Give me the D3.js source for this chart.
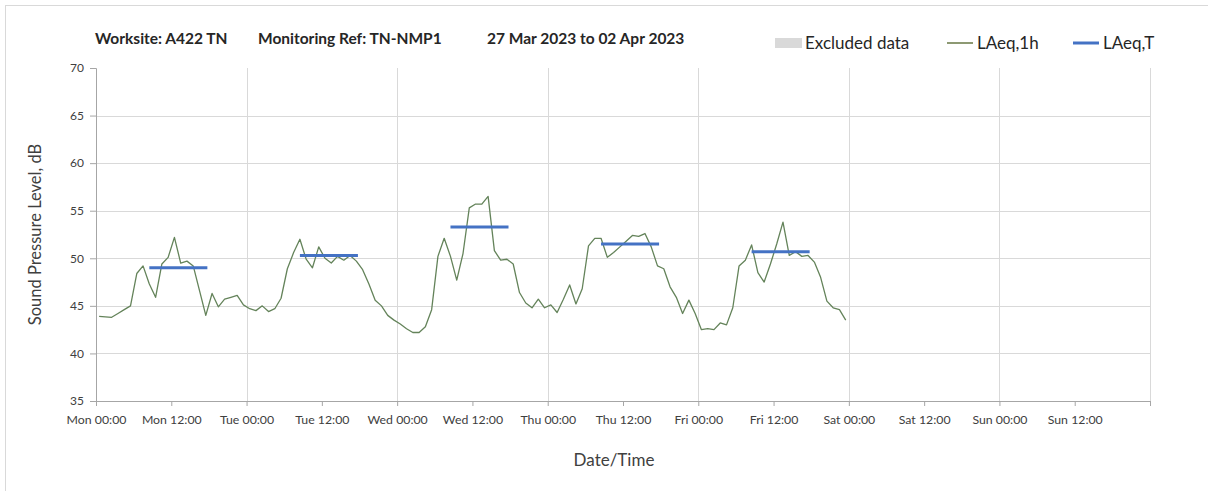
<!DOCTYPE html>
<html>
<head>
<meta charset="utf-8">
<script src="https://cdn.jsdelivr.net/npm/d3@7"></script>
<style>
  body { margin: 0; background: #fff; }
  svg text { font-family: Lato, "Open Sans", sans-serif; fill: #262626; }
  .tick text { fill: #404040; }
</style>
</head>
<body>
<script>
// hourly LAeq,1h readings, Mon 27 Mar 00:30 onward
var laeq1h = [
  43.9, 43.85, 43.8, 44.2, 44.6, 45.0, 48.4, 49.2, 47.3, 45.9, 49.4, 50.1,
  52.2, 49.5, 49.7, 49.2, 46.6, 44.0, 46.3, 44.9, 45.7, 45.9, 46.1, 45.1,
  44.7, 44.5, 45.0, 44.4, 44.7, 45.8, 48.9, 50.6, 52.0, 49.9, 49.0, 51.2,
  50.0, 49.5, 50.2, 49.8, 50.3, 49.7, 48.8, 47.3, 45.6, 45.0, 44.0, 43.5,
  43.1, 42.6, 42.2, 42.2, 42.8, 44.6, 50.2, 52.1, 50.2, 47.7, 50.5, 55.3,
  55.7, 55.7, 56.5, 50.8, 49.8, 49.9, 49.4, 46.4, 45.3, 44.8, 45.7, 44.8,
  45.1, 44.3, 45.7, 47.2, 45.2, 46.8, 51.3, 52.1, 52.1, 50.1, 50.6, 51.2,
  51.8, 52.4, 52.3, 52.6, 51.2, 49.2, 48.9, 47.0, 45.9, 44.2, 45.6, 44.2,
  42.5, 42.6, 42.5, 43.2, 43.0, 44.8, 49.2, 49.8, 51.4, 48.5, 47.5, 49.4,
  51.5, 53.8, 50.3, 50.7, 50.2, 50.3, 49.6, 48.0, 45.5, 44.8, 44.6, 43.5
];
var startTime = new Date(2023, 2, 27, 0, 30);

// daytime LAeq,T per day
var periodDays = [27, 28, 29, 30, 31];
var laeqT = [49.0, 50.3, 53.3, 51.5, 50.7];
var periodStart = 8.5;   // hours
var periodEnd = 17.75;

var yTicks = [35, 40, 45, 50, 55, 60, 65, 70];
var legendItems = ["Excluded data", "LAeq,1h", "LAeq,T"];

var w = 1208, h = 491;
var margin = {top: 68, right: 58, bottom: 90, left: 96};

var svg = d3.select("body").append("svg")
  .attr("width", w)
  .attr("height", h);

// outer frame (only left/top visible in the shot)
svg.append("rect")
  .attr("x", 5.5).attr("y", 5.5)
  .attr("width", w + 20).attr("height", h + 20)
  .attr("fill", "none")
  .attr("stroke", "#d9d9d9");

var x = d3.scaleTime()
  .domain([new Date(2023, 2, 27), new Date(2023, 3, 3)])
  .range([margin.left, w - margin.right]);

var y = d3.scaleLinear()
  .domain([35, 70])
  .range([h - margin.bottom, margin.top]);

var data = laeq1h.map((v, i) => ({t: d3.timeHour.offset(startTime, i), v: v}));

// grid
var grid = svg.append("g");
grid.selectAll(".hgrid")
  .data(yTicks.filter(d => d > 35 && d < 70))
  .enter().append("line")
  .attr("x1", x.range()[0]).attr("x2", x.range()[1])
  .attr("y1", d => Math.round(y(d)) + 0.5).attr("y2", d => Math.round(y(d)) + 0.5)
  .attr("stroke", "#d9d9d9");

grid.selectAll(".vgrid")
  .data(d3.timeDay.range(new Date(2023, 2, 28), new Date(2023, 3, 4)))
  .enter().append("line")
  .attr("x1", d => Math.round(x(d)) + 0.5).attr("x2", d => Math.round(x(d)) + 0.5)
  .attr("y1", y(70)).attr("y2", y(35))
  .attr("stroke", "#d9d9d9");

// axes
var xAxis = d3.axisBottom(x)
  .tickValues(d3.timeHour.every(12).range(new Date(2023, 2, 27), new Date(2023, 3, 3, 1)))
  .tickFormat(d => d.getTime() >= new Date(2023, 3, 3).getTime() ? "" : d3.timeFormat("%a %H:%M")(d))
  .tickSize(5)
  .tickPadding(9);

var gx = svg.append("g")
  .attr("transform", "translate(0," + Math.round(y(35)) + ")")
  .call(xAxis);
gx.select(".domain").attr("stroke", "#a6a6a6");
gx.selectAll(".tick line").attr("stroke", "#a6a6a6");
gx.selectAll(".tick text").style("font-size", "12.3px");

var yAxis = d3.axisLeft(y)
  .tickValues(yTicks)
  .tickSize(6)
  .tickPadding(6);

var gy = svg.append("g")
  .attr("transform", "translate(" + margin.left + ",0)")
  .call(yAxis);
gy.select(".domain").attr("stroke", "#a6a6a6");
gy.selectAll(".tick line").attr("stroke", "#a6a6a6");
gy.selectAll(".tick text").style("font-size", "12px");

// LAeq,1h line
var line = d3.line()
  .x(d => x(d.t))
  .y(d => y(d.v));

svg.append("path")
  .datum(data)
  .attr("fill", "none")
  .attr("stroke", "#64835a")
  .attr("stroke-width", 1.3)
  .attr("stroke-linejoin", "round")
  .attr("d", line);

// LAeq,T bars
svg.selectAll(".laeqT")
  .data(laeqT)
  .enter().append("line")
  .attr("x1", (d, i) => x(new Date(2023, 2, periodDays[i], 0, periodStart * 60)))
  .attr("x2", (d, i) => x(new Date(2023, 2, periodDays[i], 0, periodEnd * 60)))
  .attr("y1", d => y(d)).attr("y2", d => y(d))
  .attr("stroke", "#4472c4")
  .attr("stroke-width", 3);

// titles
var title = svg.append("g").style("font-weight", "bold").style("font-size", "15.5px");
title.append("text").attr("x", 95).attr("y", 44).text("Worksite: A422 TN");
title.append("text").attr("x", 258).attr("y", 44).text("Monitoring Ref: TN-NMP1");
title.append("text").attr("x", 487).attr("y", 44).text("27 Mar 2023 to 02 Apr 2023");

svg.append("text")
  .attr("transform", "translate(41," + ((y(35) + y(70)) / 2) + ") rotate(-90)")
  .attr("text-anchor", "middle")
  .style("font-size", "16.5px")
  .style("fill", "#404040")
  .text("Sound Pressure Level, dB");

svg.append("text")
  .attr("x", 614)
  .attr("y", 466)
  .attr("text-anchor", "middle")
  .style("font-size", "17px")
  .style("fill", "#404040")
  .text("Date/Time");

// legend
var legend = svg.append("g").style("font-size", "17px");
var lx = [775, 947, 1073];
legend.append("rect")
  .attr("x", lx[0]).attr("y", 38).attr("width", 27).attr("height", 10)
  .attr("fill", "#d9d9d9");
legend.append("line")
  .attr("x1", lx[1]).attr("x2", lx[1] + 26).attr("y1", 43).attr("y2", 43)
  .attr("stroke", "#4f6228").attr("stroke-width", 1.3);
legend.append("line")
  .attr("x1", lx[2]).attr("x2", lx[2] + 26).attr("y1", 43).attr("y2", 43)
  .attr("stroke", "#4472c4").attr("stroke-width", 3);
legend.selectAll(".lt")
  .data(legendItems)
  .enter().append("text")
  .attr("x", (d, i) => lx[i] + 30)
  .attr("y", 49)
  .text(d => d);
</script>
</body>
</html>
